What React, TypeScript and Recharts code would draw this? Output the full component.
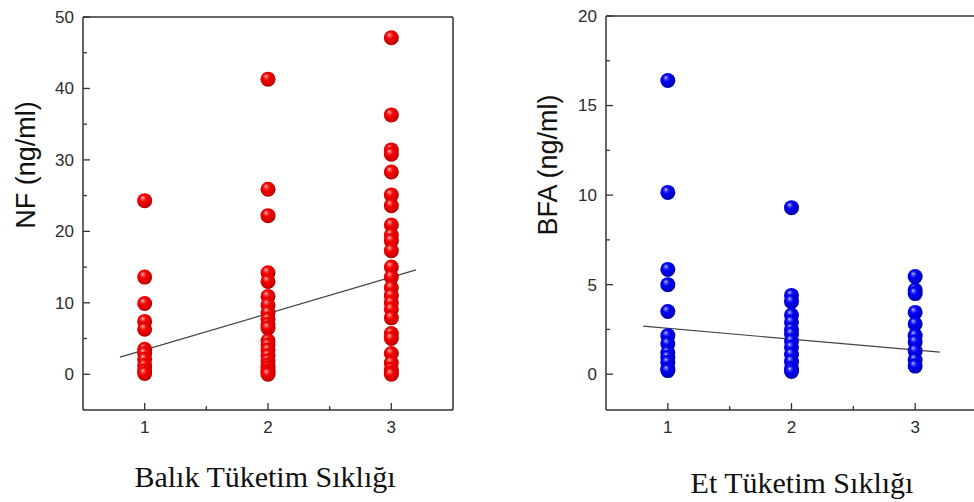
import React from "react";
import { ScatterChart, Scatter, XAxis, YAxis, ReferenceLine, Label } from "recharts";

// NF (ng/ml) by fish consumption frequency
const nfGroup1 = [24.3, 13.6, 9.9, 7.4, 6.3, 3.5, 2.9, 2.1, 1.2, 0.5, 0.1];
const nfGroup2 = [41.3, 25.9, 22.2, 14.2, 13.0, 10.9, 9.7, 8.6, 7.7, 7.0, 6.5, 4.7, 4.1, 3.4, 2.6, 1.9, 1.3, 0.9, 0.5, 0.2, 0.0];
const nfGroup3 = [47.1, 36.3, 31.4, 30.8, 28.3, 25.1, 23.6, 20.9, 19.5, 18.7, 17.3, 15.0, 13.6, 12.1, 11.0, 10.0, 9.1, 7.9, 5.7, 5.0, 2.9, 1.6, 0.7, 0.2, 0.0];
const nfFit = [
  { x: 0.8, y: 2.4 },
  { x: 3.2, y: 14.6 },
];

// BFA (ng/ml) by meat consumption frequency
const bfaGroup1 = [16.4, 10.15, 5.85, 5.0, 3.5, 2.15, 1.7, 1.2, 0.95, 0.65, 0.3, 0.2];
const bfaGroup2 = [9.3, 4.4, 4.05, 3.3, 2.9, 2.5, 2.25, 1.85, 1.5, 1.1, 0.7, 0.3, 0.15];
const bfaGroup3 = [5.45, 4.7, 4.5, 3.45, 2.8, 2.15, 1.8, 1.3, 0.8, 0.45];
const bfaFit = [
  { x: 0.8, y: 2.68 },
  { x: 3.2, y: 1.23 },
];

const xTicks = [1, 1.5, 2, 2.5, 3];
const xLabels = [1, 2, 3];
const nfTicks = [0, 5, 10, 15, 20, 25, 30, 35, 40, 45, 50];
const nfLabels = [0, 10, 20, 30, 40, 50];
const bfaTicks = [0, 2.5, 5, 7.5, 10, 12.5, 15, 17.5, 20];
const bfaLabels = [0, 5, 10, 15, 20];

const toPoints = (groups: number[][]) =>
  groups.flatMap((vals, i) => vals.map((v) => ({ x: i + 1, y: v })));

const nfData = toPoints([nfGroup1, nfGroup2, nfGroup3]);
const bfaData = toPoints([bfaGroup1, bfaGroup2, bfaGroup3]);

const AXIS = "#333";
const sans = "'Liberation Sans', Arial, sans-serif";
const serif = "'Liberation Serif', 'Times New Roman', serif";

function makeTick(side: "bottom" | "top" | "left" | "right", labels: number[]) {
  return (props: any) => {
    const { x, y, payload } = props;
    const v = payload.value;
    const major = labels.includes(v);
    const len = major ? 7 : 4;
    const show = major && (side === "bottom" || side === "left");
    let line;
    if (side === "bottom") line = <line x1={x} y1={y} x2={x} y2={y - len} />;
    else if (side === "top") line = <line x1={x} y1={y} x2={x} y2={y + len} />;
    else if (side === "left") line = <line x1={x} y1={y} x2={x + len} y2={y} />;
    else line = <line x1={x} y1={y} x2={x - len} y2={y} />;
    return (
      <g stroke={AXIS} strokeWidth={1.3}>
        {line}
        {show && side === "bottom" && (
          <text x={x} y={y + 23} textAnchor="middle" fill="#2b2b2b" stroke="none" fontSize={17} fontFamily={sans}>
            {v}
          </text>
        )}
        {show && side === "left" && (
          <text x={x - 9} y={y} dy="0.35em" textAnchor="end" fill="#2b2b2b" stroke="none" fontSize={17} fontFamily={sans}>
            {v}
          </text>
        )}
      </g>
    );
  };
}

const ball = (id: string) => (props: any) =>
  <circle cx={props.cx} cy={props.cy} r={7.5} fill={`url(#${id})`} />;

interface PanelProps {
  data: { x: number; y: number }[];
  fit: { x: number; y: number }[];
  yDomain: [number, number];
  yTicks: number[];
  yLabels: number[];
  ballId: string;
  yTitle: string;
  yTitleX: number;
  xTitle: string;
  xTitleX: number;
  xTitleY: number;
  margin: { top: number; right: number; bottom: number; left: number };
  width: number;
}

function Panel(p: PanelProps) {
  const axisLine = { stroke: AXIS, strokeWidth: 1.5 };
  return (
    <ScatterChart width={p.width} height={502} margin={p.margin}>
      <defs>
        <radialGradient id="redBall" cx="45%" cy="42%" r="60%" fx="36%" fy="30%">
          <stop offset="0%" stopColor="#ffe6e6" />
          <stop offset="14%" stopColor="#ff5a5a" />
          <stop offset="40%" stopColor="#f20000" />
          <stop offset="80%" stopColor="#d40000" />
          <stop offset="100%" stopColor="#9a0000" />
        </radialGradient>
        <radialGradient id="blueBall" cx="45%" cy="42%" r="60%" fx="36%" fy="30%">
          <stop offset="0%" stopColor="#e6e6ff" />
          <stop offset="14%" stopColor="#5a5aff" />
          <stop offset="40%" stopColor="#0000f2" />
          <stop offset="80%" stopColor="#0000cc" />
          <stop offset="100%" stopColor="#000088" />
        </radialGradient>
      </defs>
      <XAxis
        type="number"
        dataKey="x"
        domain={[0.5, 3.5]}
        ticks={xTicks}
        interval={0}
        tickSize={0}
        tickMargin={0}
        tickLine={false}
        axisLine={axisLine}
        tick={makeTick("bottom", xLabels)}
        height={30}
      >
        <Label
          content={() => (
            <text x={p.xTitleX} y={p.xTitleY} textAnchor="middle" fontSize={30} fontFamily={serif} fill="#111">
              {p.xTitle}
            </text>
          )}
        />
      </XAxis>
      <XAxis
        xAxisId="top"
        orientation="top"
        type="number"
        dataKey="x"
        domain={[0.5, 3.5]}
        ticks={xTicks}
        interval={0}
        tickSize={0}
        tickMargin={0}
        tickLine={false}
        axisLine={axisLine}
        tick={makeTick("top", xLabels)}
        height={1}
      />
      <YAxis
        type="number"
        dataKey="y"
        domain={p.yDomain}
        ticks={p.yTicks}
        interval={0}
        tickSize={0}
        tickMargin={0}
        tickLine={false}
        axisLine={axisLine}
        tick={makeTick("left", p.yLabels)}
        width={40}
      >
        <Label
          content={() => (
            <text
              x={p.yTitleX}
              y={165}
              textAnchor="middle"
              dominantBaseline="central"
              transform={`rotate(-90 ${p.yTitleX} 165)`}
              fontSize={27}
              fontFamily={sans}
              fill="#111"
            >
              {p.yTitle}
            </text>
          )}
        />
      </YAxis>
      <YAxis
        yAxisId="right"
        orientation="right"
        type="number"
        dataKey="y"
        domain={p.yDomain}
        ticks={p.yTicks}
        interval={0}
        tickSize={0}
        tickMargin={0}
        tickLine={false}
        axisLine={axisLine}
        tick={makeTick("right", p.yLabels)}
        width={10}
      />
      <Scatter data={p.data} shape={ball(p.ballId)} isAnimationActive={false} />
      <ReferenceLine segment={p.fit} stroke="#444" strokeWidth={1.2} />
    </ScatterChart>
  );
}

export default function App() {
  return (
    <div
      style={{
        position: "absolute",
        left: 0,
        top: 0,
        width: 974,
        height: 502,
        overflow: "hidden",
        background: "#fff",
      }}
    >
      <div style={{ position: "absolute", left: 0, top: 0 }}>
        <Panel
          data={nfData}
          fit={nfFit}
          yDomain={[-5, 50]}
          yTicks={nfTicks}
          yLabels={nfLabels}
          ballId="redBall"
          yTitle="NF (ng/ml)"
          yTitleX={26}
          xTitle="Balık Tüketim Sıklığı"
          xTitleX={265}
          xTitleY={487}
          width={480}
          margin={{ top: 16, right: 17, bottom: 62, left: 43 }}
        />
      </div>
      <div style={{ position: "absolute", left: 480, top: 0 }}>
        <Panel
          data={bfaData}
          fit={bfaFit}
          yDomain={[-2, 20]}
          yTicks={bfaTicks}
          yLabels={bfaLabels}
          ballId="blueBall"
          yTitle="BFA (ng/ml)"
          yTitleX={68}
          xTitle="Et Tüketim Sıklığı"
          xTitleX={322}
          xTitleY={493}
          width={520}
          margin={{ top: 15, right: 13, bottom: 62, left: 86 }}
        />
      </div>
    </div>
  );
}
